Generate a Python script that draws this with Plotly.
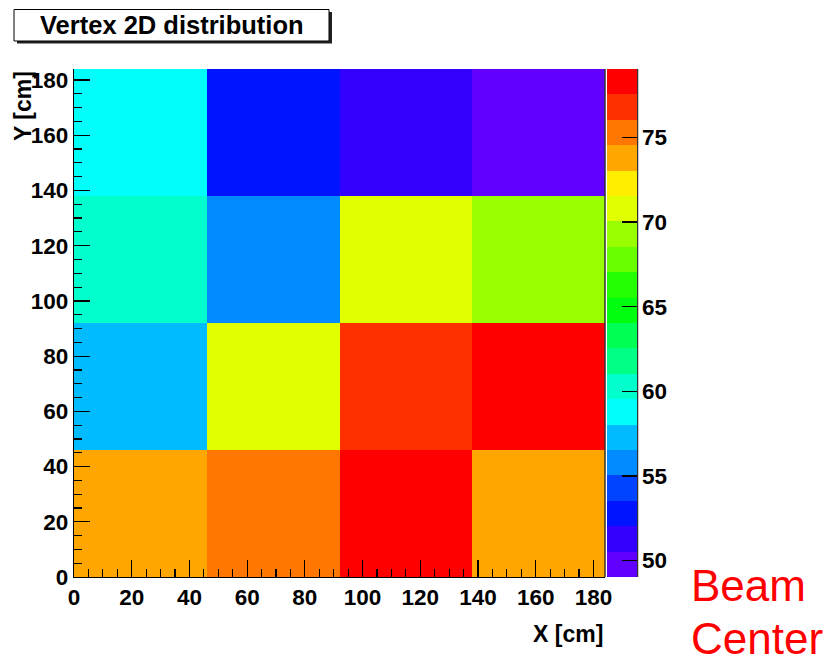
import plotly.graph_objects as go

# ---------------- data ----------------
x_edges = [0, 46, 92, 138, 184]
y_edges = [0, 46, 92, 138, 184]
# rows from bottom (y 0-46) to top (y 138-184), columns left to right
z_values = [
    [73.8, 75.3, 79.04, 73.9],
    [57.3, 70.9, 76.8, 78.3],
    [60.3, 55.8, 70.7, 69.3],
    [58.9, 53.0, 51.3, 49.03],
]
axis_ticks = [0, 20, 40, 60, 80, 100, 120, 140, 160, 180]
colorbar_ticks = [50, 55, 60, 65, 70, 75]
title_text = "Vertex 2D distribution"
x_title = "X [cm]"
y_title = "Y [cm]"
note_lines = ["Beam", "Center"]

# ROOT "pretty" palette, 20 contour levels
palette = [
    "#6200FF", "#3300FF", "#0014FF", "#0044FF", "#008BFF",
    "#00BBFF", "#00FFFB", "#00FFCC", "#00FF85", "#00FF55",
    "#00FF0E", "#22FF00", "#69FF00", "#99FF00", "#E0FF00",
    "#FFEE00", "#FFA700", "#FF7700", "#FF3000", "#FF0000",
]

n = len(palette)
colorscale = []
for k, c in enumerate(palette):
    colorscale.append([k / n, c])
    colorscale.append([(k + 1) / n, c])

zmin = min(min(r) for r in z_values)
zmax = max(max(r) for r in z_values)

# ---------------- layout geometry ----------------
W, H = 836, 667
L, R, T, B = 74, 231, 69, 90
PW, PH = W - L - R, H - T - B


def fx(px):
    return (px - L) / PW


def fy(py):
    return 1 - (py - T) / PH


FONT = "Liberation Sans, Arial, sans-serif"
tickfont = dict(family=FONT, size=22.5, color="black", weight="bold")

fig = go.Figure()
fig.add_trace(go.Heatmap(
    x=x_edges, y=y_edges, z=z_values,
    zmin=zmin, zmax=zmax,
    colorscale=colorscale,
    hoverinfo="skip",
    colorbar=dict(
        x=fx(607), xanchor="left", xpad=0,
        y=0.5, yanchor="middle", ypad=0,
        len=1, lenmode="fraction",
        thickness=30, thicknessmode="pixels",
        outlinewidth=0,
        tickmode="array", tickvals=colorbar_ticks,
        ticks="inside", ticklen=15, tickwidth=1.2, tickcolor="black",
        tickfont=tickfont,
    ),
))

axis_common = dict(
    range=[0, 184],
    tickmode="array", tickvals=axis_ticks,
    ticks="inside", tickcolor="black", tickwidth=1.2,
    showgrid=False, zeroline=False,
    showline=True, linecolor="black", linewidth=1.2,
    mirror=False,
    tickfont=tickfont,
)

fig.update_layout(
    width=W, height=H,
    margin=dict(l=L, r=R, t=T, b=B, pad=0),
    paper_bgcolor="white", plot_bgcolor="white",
    showlegend=False,
    xaxis=dict(**axis_common, ticklen=17,
               minor=dict(dtick=5, tick0=0, ticks="inside", ticklen=8,
                          tickcolor="black", tickwidth=1.2)),
    yaxis=dict(**axis_common, ticklen=16,
               minor=dict(dtick=5, tick0=0, ticks="inside", ticklen=8,
                          tickcolor="black", tickwidth=1.2)),
)

shapes = []
# title box shadow and box
shapes.append(dict(type="rect", xref="paper", yref="paper",
                   x0=fx(17), x1=fx(332), y0=fy(43.5), y1=fy(12),
                   fillcolor="#222222", line=dict(width=0), layer="above"))
shapes.append(dict(type="rect", xref="paper", yref="paper",
                   x0=fx(14), x1=fx(329), y0=fy(41), y1=fy(9.5),
                   fillcolor="white", line=dict(color="black", width=1),
                   layer="above"))
# dark right edge of frame and palette
shapes.append(dict(type="line", xref="paper", yref="paper",
                   x0=1, x1=1, y0=0, y1=1,
                   line=dict(color="#333333", width=1.5)))
shapes.append(dict(type="line", xref="paper", yref="paper",
                   x0=fx(637.5), x1=fx(637.5), y0=0, y1=1,
                   line=dict(color="#333333", width=1.5)))
fig.update_layout(shapes=shapes)

ann = []
ann.append(dict(text=title_text, xref="paper", yref="paper",
                x=fx(171.5), y=fy(25.5), xanchor="center", yanchor="middle",
                showarrow=False,
                font=dict(family=FONT, size=25.5, color="black", weight="bold")))
ann.append(dict(text=x_title, xref="paper", yref="paper",
                x=1, y=fy(634), xanchor="right", yanchor="middle",
                showarrow=False,
                font=dict(family=FONT, size=23, color="black", weight="bold")))
ann.append(dict(text=y_title, xref="paper", yref="paper",
                x=fx(23), y=1, xanchor="center", yanchor="top",
                textangle=-90, showarrow=False,
                font=dict(family=FONT, size=23, color="black", weight="bold")))
ann.append(dict(text=note_lines[0], xref="paper", yref="paper",
                x=fx(690), y=fy(585), xanchor="left", yanchor="middle",
                showarrow=False, borderpad=0,
                font=dict(family=FONT, size=44, color="#FF0000")))
ann.append(dict(text=note_lines[1], xref="paper", yref="paper",
                x=fx(690), y=fy(638), xanchor="left", yanchor="middle",
                showarrow=False, borderpad=0,
                font=dict(family=FONT, size=44, color="#FF0000")))
fig.update_layout(annotations=ann)

fig.write_html(
    "out.html",
    config={"displayModeBar": False, "staticPlot": True},
    post_script="document.body.style.margin='0px';document.body.style.overflow='hidden';",
)
